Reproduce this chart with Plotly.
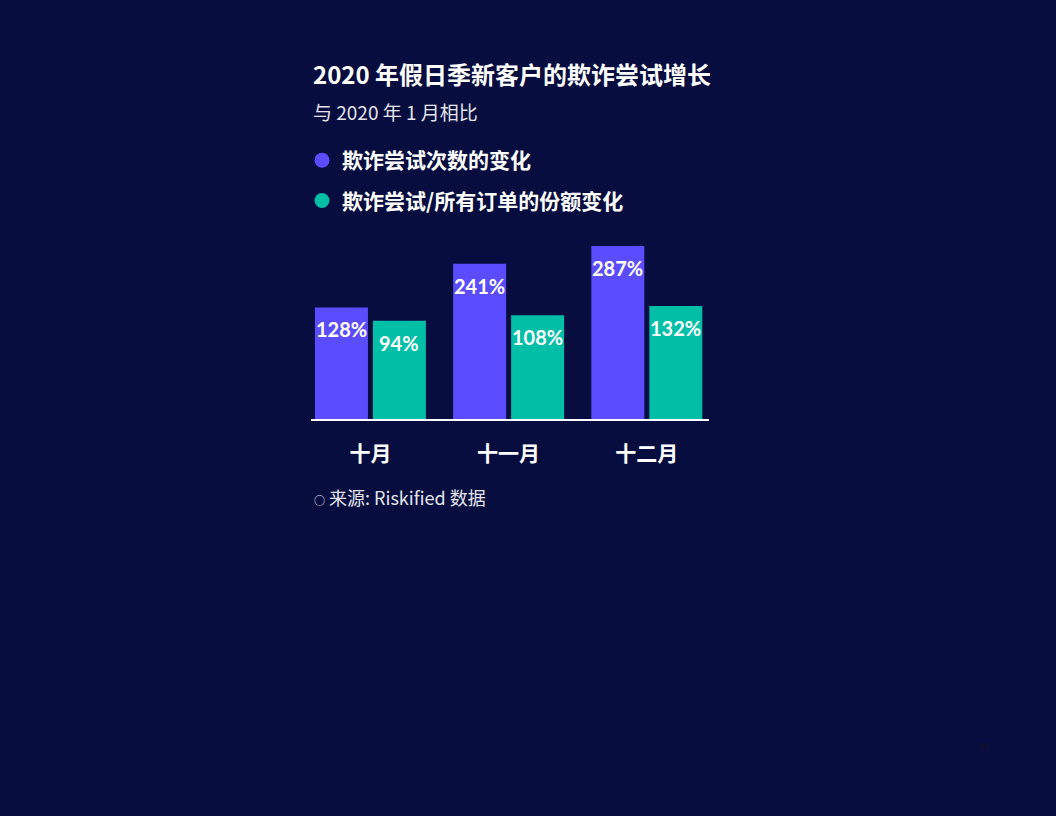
import plotly.graph_objects as go

# ── Datos ─────────────────────────────────────────────────────────────────────
meses = ["十月", "十一月", "十二月"]
intentos = [128, 241, 287]        # 欺诈尝试次数的变化 (%)
participacion = [94, 108, 132]    # 欺诈尝试/所有订单的份额变化 (%)
serie_intentos = "欺诈尝试次数的变化"
serie_participacion = "欺诈尝试/所有订单的份额变化"

titulo = "2020 年假日季新客户的欺诈尝试增长"
subtitulo = "与 2020 年 1 月相比"
fuente = "来源: Riskified 数据"
pagina = "26"

# ── Estilo ────────────────────────────────────────────────────────────────────
FONDO = "#070D3F"
MORADO = "#5B4CFF"
TURQUESA = "#00BFA6"
CJK = "Noto Sans CJK SC, sans-serif"
NUM = "Lato, Roboto, sans-serif"
BASE = -160   # the drawing is not to scale; bars rise from this level

# plot area in pixels
L, R, T, B = 311, 709, 230, 419
W, H = 1056, 816


def px(x, y):
    return (x - L) / (R - L), (B - y) / (B - T)


fig = go.Figure()

for nombre, valores, color in [(serie_intentos, intentos, MORADO),
                               (serie_participacion, participacion, TURQUESA)]:
    fig.add_trace(go.Bar(
        x=meses, y=[v - BASE for v in valores], base=BASE,
        name=nombre, marker=dict(color=color, line=dict(width=0)),
        showlegend=False, offsetgroup=nombre, hoverinfo="skip",
    ))
    # legend entry with a round marker
    fig.add_trace(go.Scatter(
        x=[None], y=[None], mode="markers", name=nombre,
        legendgroup=nombre,
        marker=dict(size=15, color=color, symbol="circle"),
    ))

# value labels just inside the top of each bar
for valores, desplaz in [(intentos, -29), (participacion, 29)]:
    for mes, v in zip(meses, valores):
        fig.add_annotation(
            x=mes, y=v, xshift=desplaz, yshift=-8,
            text=f"<b>{v}%</b>", showarrow=False, yanchor="top",
            font=dict(family=NUM, size=20, color="white"),
        )

# title / subtitle / source / page
tx, ty = px(311, 73)
fig.add_annotation(x=tx, y=ty, xref="paper", yref="paper", xanchor="left",
                   yanchor="middle", showarrow=False,
                   text=f"<b>{titulo}</b>",
                   font=dict(family=CJK, size=24, color="white"))
sx, sy = px(311, 112)
fig.add_annotation(x=sx, y=sy, xref="paper", yref="paper", xanchor="left",
                   yanchor="middle", showarrow=False, text=subtitulo,
                   font=dict(family=CJK, size=19, color="#E4E4EE"))
fx, fy = px(312, 497)
fig.add_annotation(x=fx, y=fy, xref="paper", yref="paper", xanchor="left",
                   yanchor="middle", showarrow=False,
                   text=f"<span style='font-size:11px'>○</span> {fuente}",
                   font=dict(family=CJK, size=18, color="#E4E4EE"))
nx, ny = px(984, 746)
fig.add_annotation(x=nx, y=ny, xref="paper", yref="paper", xanchor="center",
                   yanchor="middle", showarrow=False, text=f"<b>{pagina}</b>",
                   font=dict(family=NUM, size=10, color="#10102A"))

lx, ly = px(302, 140)
fig.update_layout(
    width=W, height=H,
    paper_bgcolor=FONDO, plot_bgcolor=FONDO,
    margin=dict(l=L, r=W - R, t=T, b=H - B),
    barmode="group", bargap=0.161, bargroupgap=0.086,
    font=dict(family=CJK, color="white"),
    legend=dict(x=lx, y=ly, xanchor="left", yanchor="top",
                bgcolor="rgba(0,0,0,0)", tracegroupgap=10,
                font=dict(family=CJK, size=21, color="white", weight="bold")),
)
fig.update_xaxes(range=[-0.43, 2.45], showline=True, linecolor="white",
                 linewidth=2, ticks="outside", ticklen=15,
                 tickcolor="rgba(0,0,0,0)",
                 tickfont=dict(family=CJK, size=21, color="white", weight="bold"),
                 showgrid=False, fixedrange=True)
fig.update_yaxes(range=[BASE, 328], visible=False, showgrid=False,
                 zeroline=False, fixedrange=True)

fig.write_html("out.html",
               config={"displayModeBar": False},
               post_script="document.body.style.margin='0';"
                           f"document.body.style.background='{FONDO}';")
